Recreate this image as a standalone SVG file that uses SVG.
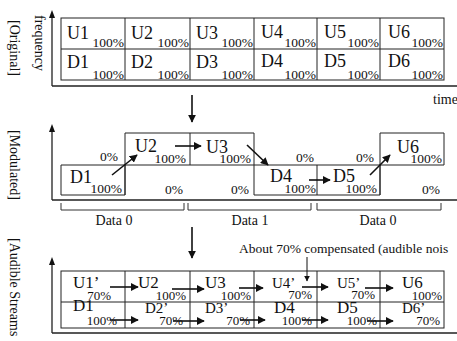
<svg xmlns="http://www.w3.org/2000/svg" width="457" height="341" viewBox="0 0 457 341">
<style>
text{font-family:"Liberation Serif","Times New Roman",serif;fill:#111}
.m{font-size:18px}
.b{font-size:17px}
.p{font-size:15px}
.s{font-size:13.5px;text-anchor:end}
.t{font-size:13px;text-anchor:end}
.l{font-size:14px}
.box{fill:none;stroke:#222;stroke-width:1}
.ax{fill:none;stroke:#222;stroke-width:1.3}
.ar{stroke:#111;stroke-width:1.6;fill:none;marker-end:url(#ah)}
.br{fill:none;stroke:#333;stroke-width:1}
</style>
<defs>
<marker id="ah" viewBox="0 0 10 10" refX="9" refY="5" markerWidth="8" markerHeight="8" markerUnits="userSpaceOnUse" orient="auto"><path d="M0,0L10,5L0,10z" fill="#111"/></marker>
<marker id="ahs" viewBox="0 0 10 10" refX="9" refY="5" markerWidth="6" markerHeight="6" markerUnits="userSpaceOnUse" orient="auto"><path d="M0,0L10,5L0,10z" fill="#111"/></marker>
</defs>

<g id="labels">
<text class="l" transform="translate(10,20) rotate(90)">[Original]</text>
<text class="l" transform="translate(35,15) rotate(90)">frequency</text>
<text class="l" transform="translate(10,130) rotate(90)">[Modulated]</text>
<text class="l" transform="translate(10,238) rotate(90)">[Audible Streams</text>
<text class="l" x="433" y="104">time</text>
</g>

<g id="axes">
<path class="ax" d="M52,86V14M52,86H457"/>
<path d="M49,18L52,10L55,18z" fill="#111"/>
<path class="ax" d="M52,200V128M52,200H457"/>
<path d="M49,132L52,124L55,132z" fill="#111"/>
<path class="ax" d="M52,333V261M52,333H457"/>
<path d="M49,265L52,257L55,265z" fill="#111"/>
</g>

<g id="original">
<rect class="box" x="61" y="18" width="383" height="62"/>
<path class="box" d="M61,49H444M125,18V80M190,18V80M254,18V80M317,18V80M380,18V80"/>
<text class="m" x="67" y="39">U1</text><text class="s" x="124" y="47">100%</text>
<text class="m" x="131" y="39">U2</text><text class="s" x="189" y="47">100%</text>
<text class="m" x="196" y="39">U3</text><text class="s" x="253" y="47">100%</text>
<text class="m" x="261" y="38">U4</text><text class="s" x="316" y="47">100%</text>
<text class="m" x="324" y="38">U5</text><text class="s" x="379" y="47">100%</text>
<text class="m" x="388" y="38">U6</text><text class="s" x="443" y="47">100%</text>
<text class="m" x="67" y="68">D1</text><text class="s" x="124" y="79">100%</text>
<text class="m" x="131" y="68">D2</text><text class="s" x="189" y="79">100%</text>
<text class="m" x="196" y="68">D3</text><text class="s" x="253" y="79">100%</text>
<text class="m" x="261" y="67">D4</text><text class="s" x="316" y="79">100%</text>
<text class="m" x="324" y="67">D5</text><text class="s" x="379" y="79">100%</text>
<text class="m" x="388" y="67">D6</text><text class="s" x="443" y="79">100%</text>
</g>

<g id="modulated">
<path class="box" d="M61,165H125V195H61zM125,133H254V165H125zM190,133V165M125,165V195M254,165H380V195H254zM317,165V195M380,133H444V165H380zM380,165V195"/>
<text class="m" x="70" y="183">D1</text><text class="s" x="122" y="193">100%</text>
<text class="s" x="118" y="161">0%</text>
<text class="m" x="135" y="152">U2</text><text class="s" x="186" y="163">100%</text>
<text class="s" x="183" y="194">0%</text>
<text class="m" x="206" y="153">U3</text><text class="s" x="251" y="163">100%</text>
<text class="s" x="249" y="194">0%</text>
<text class="m" x="270" y="182">D4</text><text class="s" x="316" y="193">100%</text>
<text class="s" x="314" y="162">0%</text>
<text class="m" x="333" y="182">D5</text><text class="s" x="377" y="193">100%</text>
<text class="s" x="374" y="162">0%</text>
<text class="m" x="397" y="153">U6</text><text class="s" x="442" y="163">100%</text>
<text class="s" x="440" y="194">0%</text>
</g>

<g id="brackets">
<path class="br" d="M61,203V210H184V203M188,203V210H311V203M317,203V210H441V203"/>
<text class="l" x="114" y="225" text-anchor="middle">Data 0</text>
<text class="l" x="250" y="225" text-anchor="middle">Data 1</text>
<text class="l" x="378" y="225" text-anchor="middle">Data 0</text>
</g>

<g id="audible">
<rect class="box" x="61" y="271" width="383" height="57"/>
<path class="box" d="M61,302H444M125,271V328M190,271V328M254,271V328M317,271V328M380,271V328"/>
<text class="b" x="73" y="288">U1’</text><text class="t" x="111" y="300">70%</text>
<text class="b" x="138" y="288">U2</text><text class="t" x="186" y="300">100%</text>
<text class="b" x="205" y="288">U3</text><text class="t" x="251" y="300">100%</text>
<text class="p" x="272" y="288">U4’</text><text class="t" x="312" y="299">70%</text>
<text class="p" x="337" y="288">U5’</text><text class="t" x="375" y="299">70%</text>
<text class="b" x="402" y="288">U6</text><text class="t" x="442" y="300">100%</text>
<text class="b" x="73" y="311">D1</text><text class="t" x="117" y="325">100%</text>
<text class="p" x="145" y="313">D2’</text><text class="t" x="183" y="325">70%</text>
<text class="p" x="205" y="313">D3’</text><text class="t" x="250" y="325">70%</text>
<text class="b" x="274" y="313">D4</text><text class="t" x="312" y="325">100%</text>
<text class="b" x="337" y="313">D5</text><text class="t" x="377" y="325">100%</text>
<text class="p" x="402" y="313">D6’</text><text class="t" x="440" y="325">70%</text>
<text x="239" y="253" style="font-size:13.5px">About 70% compensated (audible nois</text>
</g>

<g id="connectors">
<line class="ar" x1="192" y1="95" x2="192" y2="122"/>
<line class="ar" x1="192" y1="227" x2="192" y2="258"/>
<line class="ar" x1="112" y1="175" x2="137" y2="155"/>
<line class="ar" x1="175" y1="146" x2="201" y2="146"/>
<line class="ar" x1="247" y1="145" x2="268" y2="165"/>
<line class="ar" x1="309" y1="180" x2="330" y2="180"/>
<line class="ar" x1="370" y1="175" x2="390" y2="155"/>
<line class="ar" x1="110" y1="287" x2="138" y2="287"/>
<line class="ar" x1="172" y1="289" x2="204" y2="289"/>
<line class="ar" x1="239" y1="288" x2="263" y2="288"/>
<line class="ar" x1="302" y1="287" x2="328" y2="287"/>
<line class="ar" x1="365" y1="288" x2="393" y2="288"/>
<line class="ar" x1="110" y1="320" x2="138" y2="320"/>
<line class="ar" x1="173" y1="321" x2="204" y2="321"/>
<line class="ar" x1="240" y1="320" x2="265" y2="320"/>
<line class="ar" x1="302" y1="320" x2="328" y2="320"/>
<line class="ar" x1="367" y1="321" x2="393" y2="321"/>
<line x1="307" y1="257" x2="307" y2="281" stroke="#111" stroke-width="1" marker-end="url(#ahs)"/>
</g>
</svg>
